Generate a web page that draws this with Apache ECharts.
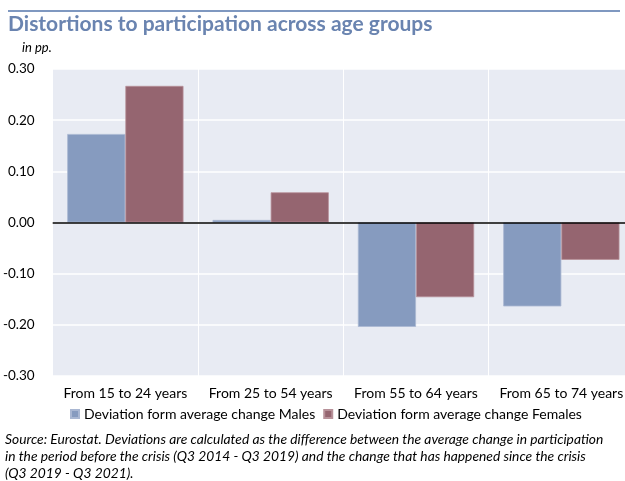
<!DOCTYPE html>
<html>
<head>
<meta charset="utf-8">
<script src="https://cdn.jsdelivr.net/npm/echarts@6/dist/echarts.min.js"></script>
<style>
  html, body { margin: 0; padding: 0; background: #fff; overflow: hidden; }
  /* plot area runs past the right edge in the original, so the canvas is a bit wider than the window */
  #chart { width: 634px; height: 481px; }
</style>
</head>
<body>
<div id="chart"></div>
<script>
const categories = ['From 15 to 24 years', 'From 25 to 54 years', 'From 55 to 64 years', 'From 65 to 74 years']
const males = [0.173, 0.005, -0.204, -0.164]
const females = [0.267, 0.059, -0.146, -0.073]
const seriesNames = ['Deviation form average change Males', 'Deviation form average change Females']

const font = 'Lato, "Open Sans", sans-serif'
const chart = echarts.init(document.getElementById('chart'))

const option = {
  animation: false,
  textStyle: { fontFamily: font },
  title: [
    {
      text: 'Distortions to participation across age groups',
      left: 3,
      top: 9,
      padding: 5,
      textStyle: { color: '#6A84B0', fontSize: 21, fontWeight: 'bold', fontFamily: font }
    },
    {
      text: 'in pp.',
      left: 17,
      top: 36,
      textStyle: { color: '#000', fontSize: 13, fontStyle: 'italic', fontWeight: 'normal', fontFamily: font }
    },
    {
      text: 'Source: Eurostat. Deviations are calculated as the difference between the average change in participation\nin the period before the crisis (Q3 2014 - Q3 2019) and the change that has happened since the crisis\n(Q3 2019 - Q3 2021).',
      left: 0,
      top: 426,
      textStyle: { color: '#000', fontSize: 13.8, fontStyle: 'italic', fontWeight: 'normal', lineHeight: 17, fontFamily: font }
    }
  ],
  graphic: [
    {
      type: 'line',
      shape: { x1: 8, y1: 11, x2: 620, y2: 11 },
      style: { stroke: '#7F98C0', lineWidth: 2 }
    }
  ],
  legend: {
    top: 402,
    left: 65,
    itemWidth: 8,
    itemHeight: 8,
    itemGap: 8,
    icon: 'rect',
    textStyle: { fontSize: 14, color: '#000', fontFamily: font },
    data: seriesNames
  },
  grid: {
    left: 51,
    top: 69,
    right: 0,
    bottom: 105,
    show: true,
    backgroundColor: '#E8EBF3',
    borderWidth: 0
  },
  xAxis: {
    type: 'category',
    data: categories,
    axisLine: { show: false },
    axisTick: { show: false },
    axisLabel: { color: '#000', fontSize: 14, margin: 10, interval: 0 },
    splitLine: { show: true, lineStyle: { color: '#fff', width: 1 } }
  },
  yAxis: {
    type: 'value',
    min: -0.3,
    max: 0.3,
    interval: 0.1,
    axisLine: { show: false },
    axisTick: { show: false },
    axisLabel: {
      color: '#000',
      fontSize: 13.5,
      margin: 18,
      formatter: v => v.toFixed(2)
    },
    splitLine: { lineStyle: { color: '#fff', width: 1.5 } }
  },
  series: [
    {
      name: seriesNames[0],
      type: 'bar',
      data: males,
      barWidth: '40%',
      barGap: '0%',
      itemStyle: { color: '#869BBF', borderColor: '#A9B7D2', borderWidth: 0.8 },
      markLine: {
        silent: true,
        symbol: 'none',
        label: { show: false },
        lineStyle: { color: '#000', width: 1.5, type: 'solid' },
        data: [{ yAxis: 0 }]
      }
    },
    {
      name: seriesNames[1],
      type: 'bar',
      data: females,
      barWidth: '40%',
      itemStyle: { color: '#956570', borderColor: '#B79199', borderWidth: 0.8 }
    }
  ]
}

chart.setOption(option)
</script>
</body>
</html>
